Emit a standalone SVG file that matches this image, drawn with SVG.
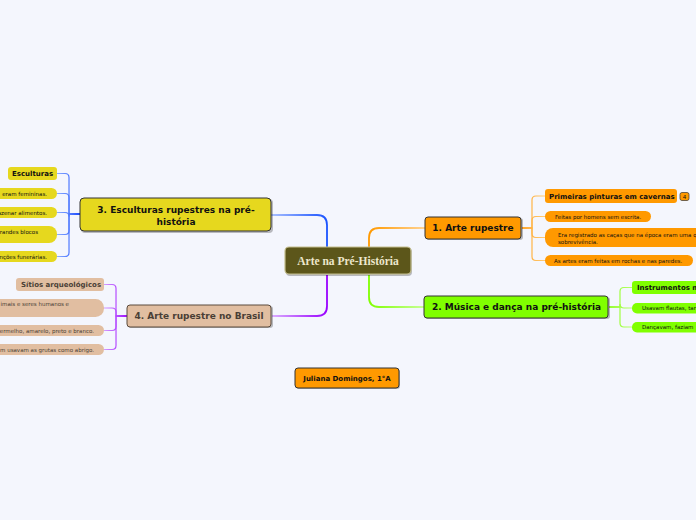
<svg xmlns="http://www.w3.org/2000/svg" width="696" height="520" viewBox="0 0 696 520">
<defs>
<linearGradient id="gBlueMain" gradientUnits="userSpaceOnUse" x1="327" y1="0" x2="271" y2="0"><stop offset="0" stop-color="#1a53ff"/><stop offset="1" stop-color="#a9c0ff"/></linearGradient>
<linearGradient id="gOrangeMain" gradientUnits="userSpaceOnUse" x1="369" y1="0" x2="425" y2="0"><stop offset="0" stop-color="#ff9900"/><stop offset="1" stop-color="#ffd394"/></linearGradient>
<linearGradient id="gGreenMain" gradientUnits="userSpaceOnUse" x1="369" y1="0" x2="425" y2="0"><stop offset="0" stop-color="#80ff00"/><stop offset="1" stop-color="#c9ff9a"/></linearGradient>
<linearGradient id="gPurpleMain" gradientUnits="userSpaceOnUse" x1="327" y1="0" x2="271" y2="0"><stop offset="0" stop-color="#9900ff"/><stop offset="1" stop-color="#dcb0ff"/></linearGradient>
<linearGradient id="gO" gradientUnits="userSpaceOnUse" x1="521" y1="0" x2="545" y2="0"><stop offset="0" stop-color="#ffa01a"/><stop offset="1" stop-color="#ffcc7a"/></linearGradient>
<linearGradient id="gG" gradientUnits="userSpaceOnUse" x1="608" y1="0" x2="632" y2="0"><stop offset="0" stop-color="#88ff10"/><stop offset="1" stop-color="#b8ff70"/></linearGradient>
<linearGradient id="gB" gradientUnits="userSpaceOnUse" x1="80" y1="0" x2="57" y2="0"><stop offset="0" stop-color="#1446ff"/><stop offset="1" stop-color="#8fb0ff"/></linearGradient>
<linearGradient id="gP" gradientUnits="userSpaceOnUse" x1="127" y1="0" x2="104" y2="0"><stop offset="0" stop-color="#9900ff"/><stop offset="1" stop-color="#d4a0ff"/></linearGradient>
</defs>
<style>
.main{stroke:#333;stroke-width:1}
.shadow{fill:#000;opacity:0.25}
.t{font-family:"DejaVu Sans",Verdana,sans-serif;fill:#111}
.tb{font-family:"DejaVu Sans",Verdana,sans-serif;font-weight:bold;fill:#111}
.mt{font-family:"DejaVu Sans",Verdana,sans-serif;font-weight:bold;font-size:9px;text-anchor:middle;fill:#111}
.s{font-size:5.5px}
.b{font-size:7px}
.or{fill:#ff9900}
.gr{fill:#80ff00}
.ye{fill:#e6d81e}
.tn{fill:#e1bea1}
.brown{fill:#4a3f36}
.c{fill:none;stroke-width:1.2}
.cm{fill:none;stroke-width:1.8}
</style>
<rect width="696" height="520" fill="#f4f6fd"/>

<g id="connectors">
<path class="cm" stroke="url(#gBlueMain)" d="M327,247 V225 Q327,215 317,215 H271"/>
<path class="cm" stroke="url(#gOrangeMain)" d="M369,247 V238 Q369,228 379,228 H425"/>
<path class="cm" stroke="url(#gGreenMain)" d="M369,275 V297 Q369,307 379,307 H424"/>
<path class="cm" stroke="url(#gPurpleMain)" d="M327,275 V306 Q327,316 317,316 H272"/>

<path class="c" stroke="url(#gO)" d="M522,228 H532 V200 Q532,196 536,196 H545"/>
<path class="c" stroke="url(#gO)" d="M522,228 H532 V220.5 Q532,216.5 536,216.5 H545"/>
<path class="c" stroke="url(#gO)" d="M522,228 H532 V233.5 Q532,237.5 536,237.5 H545"/>
<path class="c" stroke="url(#gO)" d="M522,228 H532 V256.5 Q532,260.5 536,260.5 H545"/>

<path class="c" stroke="url(#gG)" d="M609,307 H620 V291.5 Q620,287.5 624,287.5 H632"/>
<path class="c" stroke="url(#gG)" d="M609,307 H620 V304 Q620,308 624,308 H632"/>
<path class="c" stroke="url(#gG)" d="M609,307 H620 V323 Q620,327 624,327 H632"/>

<path class="c" stroke="url(#gB)" d="M80,214 H69 V177.5 Q69,173.5 65,173.5 H57"/>
<path class="c" stroke="url(#gB)" d="M80,214 H69 V197.5 Q69,193.5 65,193.5 H57"/>
<path class="c" stroke="url(#gB)" d="M80,214 H69 V216.5 Q69,212.5 65,212.5 H57"/>
<path class="c" stroke="url(#gB)" d="M80,214 H69 V230.5 Q69,234.5 65,234.5 H57"/>
<path class="c" stroke="url(#gB)" d="M80,214 H69 V252.5 Q69,256.5 65,256.5 H57"/>

<path class="c" stroke="url(#gP)" d="M127,316 H116 V288.5 Q116,284.5 112,284.5 H104"/>
<path class="c" stroke="url(#gP)" d="M127,316 H116 V312 Q116,308 112,308 H104"/>
<path class="c" stroke="url(#gP)" d="M127,316 H116 V326.5 Q116,330.5 112,330.5 H104"/>
<path class="c" stroke="url(#gP)" d="M127,316 H116 V345.5 Q116,349.5 112,349.5 H104"/>
</g>

<g id="center">
<rect x="286" y="248" width="126" height="28" rx="4" class="shadow"/>
<rect x="285" y="247" width="126" height="27" rx="4" fill="#5c561a" stroke="#c4be8e" stroke-width="1.2"/>
<text x="348" y="265" text-anchor="middle" font-family="'Liberation Serif','Times New Roman',serif" font-weight="bold" font-size="11.5" fill="#ece7cc">Arte na Pré-História</text>
</g>

<g id="node1">
<rect x="426" y="218" width="97" height="22" rx="3" class="shadow"/>
<rect x="425" y="217" width="96" height="22" rx="3" class="or main"/>
<text x="473" y="231" class="mt">1. Arte rupestre</text>
</g>

<g id="node2">
<rect x="425" y="297" width="185" height="22" rx="3" class="shadow"/>
<rect x="424" y="296" width="184" height="22" rx="3" class="gr main"/>
<text x="516.5" y="310" class="mt">2. Música e dança na pré-história</text>
</g>

<g id="node3">
<rect x="81" y="199" width="192" height="34" rx="4" class="shadow"/>
<rect x="80" y="198" width="191" height="33" rx="4" class="ye main"/>
<text x="176" y="213" class="mt">3. Esculturas rupestres na pré-</text>
<text x="176" y="224.5" class="mt">história</text>
</g>

<g id="node4">
<rect x="128" y="306" width="145" height="22" rx="3" class="shadow"/>
<rect x="127" y="305" width="144" height="22" rx="3" class="tn" stroke="#5a4a3c" stroke-width="1"/>
<text x="199" y="319" class="mt" fill="#4a3f36" style="fill:#4a3f36">4. Arte rupestre no Brasil</text>
</g>

<g id="author">
<rect x="296" y="369" width="104" height="20" rx="3" class="shadow"/>
<rect x="295" y="368" width="104" height="20" rx="3" class="or main"/>
<text x="347" y="380.5" class="tb b" text-anchor="middle">Juliana Domingos, 1°A</text>
</g>

<g id="n1c1">
<rect x="545" y="189" width="132" height="14" rx="3" class="or"/>
<text x="549" y="198.5" class="tb b">Primeiras pinturas em cavernas</text>
<rect x="680" y="192.5" width="9" height="8" rx="2" class="or" stroke="#333" stroke-width="0.7"/>
<text x="684.5" y="198.8" class="t" font-size="5.5" text-anchor="middle">4</text>
</g>
<g id="n1c2">
<rect x="545" y="211" width="106" height="11" rx="5.5" class="or"/>
<text x="555" y="218.5" class="t s">Feitas por homens sem escrita.</text>
</g>
<g id="n1c3">
<rect x="545" y="228" width="170" height="19" rx="8" class="or"/>
<text x="558" y="237" class="t s">Era registrado as caças que na época eram uma q</text>
<text x="558" y="244" class="t s">sobrevivência.</text>
</g>
<g id="n1c4">
<rect x="545" y="255" width="148" height="11" rx="5.5" class="or"/>
<text x="554" y="262.5" class="t s">As artes eram feitas em rochas e nas paredes.</text>
</g>

<g id="n2c1">
<rect x="632" y="281" width="80" height="13" rx="3" class="gr"/>
<text x="637" y="290" class="tb b">Instrumentos m</text>
</g>
<g id="n2c2">
<rect x="632" y="303" width="80" height="10.5" rx="5" class="gr"/>
<text x="642" y="310.2" class="t s">Usavam flautas, tar</text>
</g>
<g id="n2c3">
<rect x="632" y="322" width="80" height="10.5" rx="5" class="gr"/>
<text x="642" y="329.2" class="t s">Dançavam, faziam</text>
</g>

<g id="n3c1">
<rect x="8" y="167" width="49" height="13" rx="3" class="ye"/>
<text x="12" y="175.8" class="tb b">Esculturas</text>
</g>
<g id="n3c2">
<rect x="-20" y="188" width="77" height="11" rx="5.5" class="ye"/>
<text x="47" y="195.5" class="t s" text-anchor="end">eram femininas.</text>
</g>
<g id="n3c3">
<rect x="-20" y="207" width="77" height="11" rx="5.5" class="ye"/>
<text x="47" y="214.5" class="t s" text-anchor="end">azenar alimentos.</text>
</g>
<g id="n3c4">
<rect x="-20" y="226" width="77" height="17" rx="8" class="ye"/>
<text x="38" y="233.5" class="t s" text-anchor="end">randes blocos</text>
</g>
<g id="n3c5">
<rect x="-20" y="251" width="77" height="11" rx="5.5" class="ye"/>
<text x="47" y="258.5" class="t s" text-anchor="end">nções funerárias.</text>
</g>

<g id="n4c1">
<rect x="16" y="278" width="88" height="13" rx="3" class="tn"/>
<text x="21" y="287" class="tb b brown">Sítios arqueológicos</text>
</g>
<g id="n4c2">
<rect x="-20" y="299" width="124" height="18" rx="8.5" class="tn"/>
<text x="69" y="306" class="t s brown" text-anchor="end">imais e seres humanos e</text>
</g>
<g id="n4c3">
<rect x="-20" y="325" width="124" height="11" rx="5.5" class="tn"/>
<text x="94" y="332.5" class="t s brown" text-anchor="end">ermelho, amarelo, preto e branco.</text>
</g>
<g id="n4c4">
<rect x="-20" y="344" width="124" height="11" rx="5.5" class="tn"/>
<text x="94" y="351.5" class="t s brown" text-anchor="end">m usavam as grutas como abrigo.</text>
</g>
</svg>
